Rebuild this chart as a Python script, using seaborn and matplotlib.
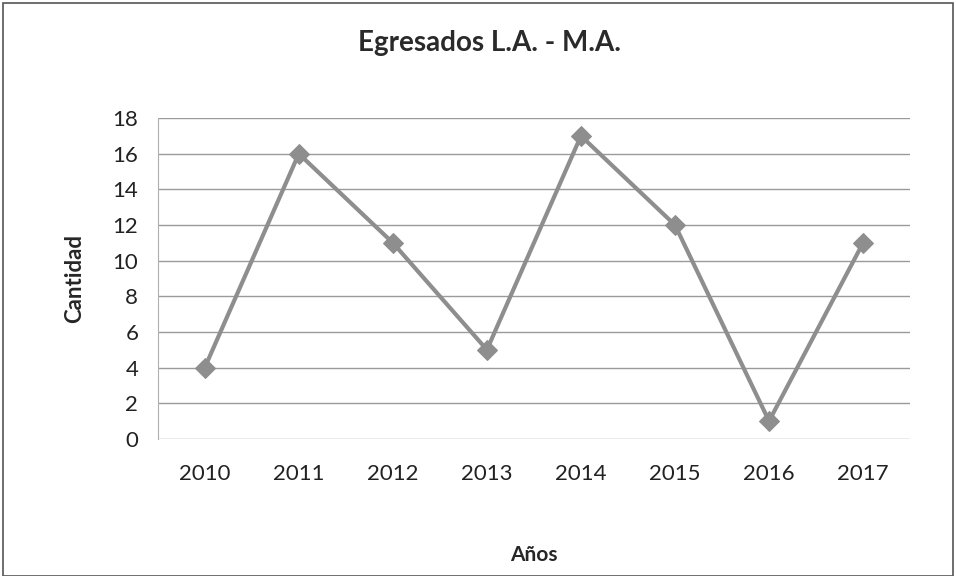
import matplotlib.pyplot as plt
import pandas as pd
import seaborn as sns

years = ["2010", "2011", "2012", "2013", "2014", "2015", "2016", "2017"]
cantidad = [4, 16, 11, 5, 17, 12, 1, 11]
y_ticks = [0, 2, 4, 6, 8, 10, 12, 14, 16, 18]


def main() -> None:
    df = pd.DataFrame({"Años": years, "Cantidad": cantidad})

    sns.set_style("white")
    plt.rcParams["font.family"] = ["Lato", "DejaVu Sans"]

    fig = plt.figure(figsize=(9.56, 5.76), dpi=100)
    ax = fig.add_axes([0.165, 0.238, 0.787, 0.557])

    sns.lineplot(
        data=df,
        x="Años",
        y="Cantidad",
        ax=ax,
        color="#8e8e8e",
        linewidth=3,
        marker="D",
        markersize=10,
        markeredgecolor="#8e8e8e",
        sort=False,
    )

    ax.set_ylim(0, 18)
    ax.set_yticks(y_ticks)
    ax.set_xlim(-0.5, len(years) - 0.5)
    ax.yaxis.grid(True, color="#9a9a9a", linewidth=1)
    ax.set_axisbelow(True)
    for side in ["top", "right", "bottom"]:
        ax.spines[side].set_visible(False)
    ax.spines["left"].set_color("#b0b0b0")
    ax.tick_params(axis="both", labelsize=16, length=0, colors="#222222")
    ax.tick_params(axis="x", pad=18)
    ax.tick_params(axis="y", pad=14)

    ax.set_xlabel("Años", fontsize=15, fontweight="bold", labelpad=44)
    ax.set_ylabel("Cantidad", fontsize=16, fontweight="bold", labelpad=20)
    fig.text(0.512, 0.925, "Egresados L.A. - M.A.", ha="center", va="center",
             fontsize=20, fontweight="bold", color="#2a2a2a")

    border = plt.Rectangle((0.003, 0.0), 0.994, 0.995, transform=fig.transFigure,
                           fill=False, edgecolor="#555555", linewidth=1.2)
    fig.patches.append(border)

    fig.savefig("out.png", dpi=100)
    plt.close(fig)


if __name__ == "__main__":
    main()
